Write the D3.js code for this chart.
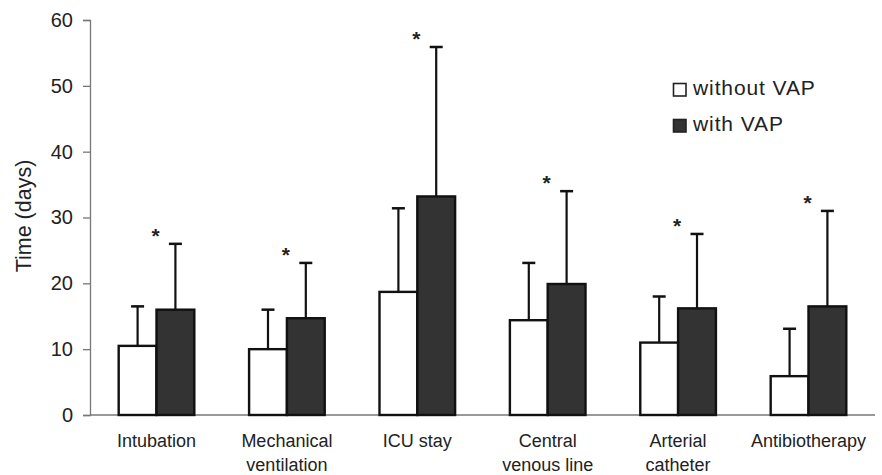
<!DOCTYPE html>
<html><head><meta charset="utf-8">
<script src="https://cdn.jsdelivr.net/npm/d3@7/dist/d3.min.js"></script>
<style>body{margin:0;background:#fff}svg{display:block}text{font-family:"Liberation Sans",Arial,sans-serif;fill:#222}</style>
</head><body><svg id="c" width="882" height="475"></svg>
<script>
const categories = [["Intubation"],["Mechanical","ventilation"],["ICU stay"],["Central","venous line"],["Arterial","catheter"],["Antibiotherapy"]];
const withoutVAP = [10.5, 10.0, 18.7, 14.4, 11.0, 5.9];
const withoutVAPErr = [16.5, 16.0, 31.4, 23.1, 18.0, 13.1];
const withVAP = [16.0, 14.7, 33.2, 19.9, 16.2, 16.5];
const withVAPErr = [26.0, 23.1, 55.9, 34.0, 27.5, 31.0];
const yTicks = [0, 10, 20, 30, 40, 50, 60];
const seriesNames = ["without VAP", "with VAP"];
const seriesFill = ["#ffffff", "#333333"];

const svg = d3.select("#c");
const mLeft = 90, mRight = 875, mTop = 20, mBottom = 415;
const keys = categories.map(c => c.join(" "));
const x = d3.scaleBand().domain(keys).range([mLeft, mRight]).paddingInner(0.42).paddingOuter(0.22);
const xs = d3.scaleBand().domain([0, 1]).range([0, x.bandwidth()]);
const y = d3.scaleLinear().domain([0, 60]).range([mBottom, mTop]);

// axes
const ya = svg.append("g").attr("transform", `translate(${mLeft},0)`)
  .call(d3.axisLeft(y).tickValues(yTicks).tickSize(7).tickPadding(10));
ya.select(".domain").attr("stroke", "#777").attr("stroke-width", 1.3);
ya.selectAll(".tick line").attr("stroke", "#777").attr("stroke-width", 1.3);
ya.selectAll(".tick text").attr("font-size", 20).attr("fill", "#222").style("font-family", "Liberation Sans, Arial, sans-serif");

svg.append("line").attr("x1", mLeft).attr("x2", mRight).attr("y1", mBottom).attr("y2", mBottom)
  .attr("stroke", "#777").attr("stroke-width", 1.3);

svg.append("text").attr("transform", `translate(31,216) rotate(-90)`).attr("text-anchor", "middle")
  .attr("font-size", 21.5).text("Time (days)");

// x labels
const xl = svg.append("g");
categories.forEach((lines, i) => {
  const t = xl.append("text").attr("text-anchor", "middle").attr("font-size", 18)
    .attr("x", x(keys[i]) + x.bandwidth() / 2).attr("y", 447);
  lines.forEach((ln, j) => t.append("tspan").attr("x", x(keys[i]) + x.bandwidth() / 2).attr("dy", j ? 23.5 : 0).text(ln));
});

const series = [withoutVAP, withVAP];
const errs = [withoutVAPErr, withVAPErr];
series.forEach((vals, s) => {
  const g = svg.append("g");
  g.selectAll("line.err").data(vals).join("line")
    .attr("x1", (d, i) => x(keys[i]) + xs(s) + xs.bandwidth() / 2)
    .attr("x2", (d, i) => x(keys[i]) + xs(s) + xs.bandwidth() / 2)
    .attr("y1", d => y(d)).attr("y2", (d, i) => y(errs[s][i]))
    .attr("stroke", "#111").attr("stroke-width", 2.2);
  g.selectAll("line.cap").data(vals).join("line")
    .attr("x1", (d, i) => x(keys[i]) + xs(s) + xs.bandwidth() / 2 - 6.5)
    .attr("x2", (d, i) => x(keys[i]) + xs(s) + xs.bandwidth() / 2 + 6.5)
    .attr("y1", (d, i) => y(errs[s][i])).attr("y2", (d, i) => y(errs[s][i]))
    .attr("stroke", "#111").attr("stroke-width", 2.5);
  g.selectAll("rect").data(vals).join("rect")
    .attr("x", (d, i) => x(keys[i]) + xs(s))
    .attr("width", xs.bandwidth())
    .attr("y", d => y(d)).attr("height", d => mBottom - y(d))
    .attr("fill", seriesFill[s]).attr("stroke", "#111").attr("stroke-width", 2.4);
});

// asterisks
svg.append("g").selectAll("text").data(withVAPErr).join("text")
  .attr("x", (d, i) => x(keys[i]) + x.bandwidth() / 2 - 1)
  .attr("y", d => y(d) - 1).attr("text-anchor", "middle").attr("font-size", 21).attr("font-weight", 600)
  .text("*");

// legend
const lg = svg.append("g");
seriesNames.forEach((n, i) => {
  lg.append("rect").attr("x", 673.5).attr("y", 83.5 + i * 36).attr("width", 12.5).attr("height", 12.5)
    .attr("fill", seriesFill[i]).attr("stroke", "#222").attr("stroke-width", 1.6);
  lg.append("text").attr("x", 693).attr("y", 95 + i * 36).attr("font-size", 21).attr("letter-spacing", 0.9).text(n);
});
</script></body></html>
